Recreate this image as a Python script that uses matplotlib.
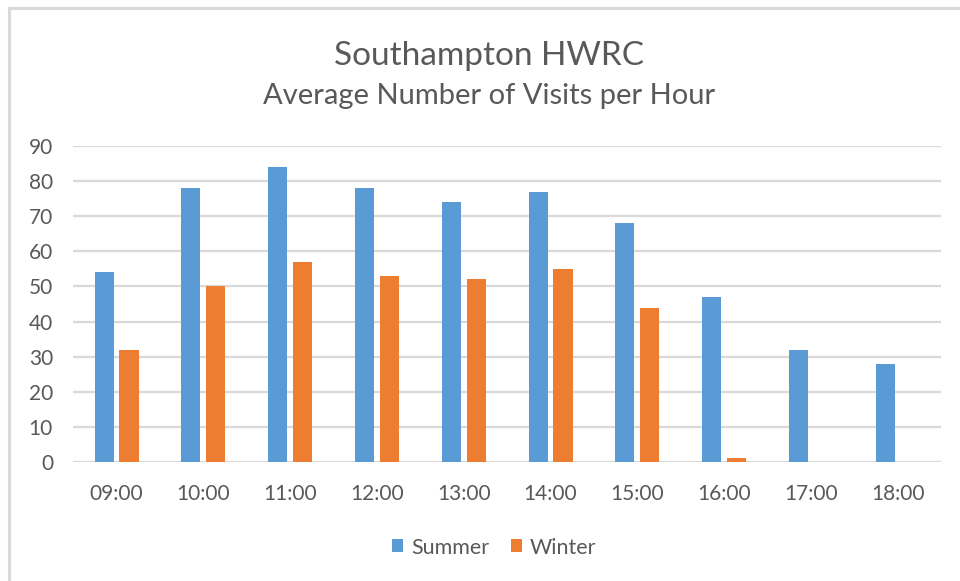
import matplotlib
matplotlib.use("Agg")
import matplotlib.pyplot as plt
from matplotlib.lines import Line2D
import numpy as np

categories = ["09:00", "10:00", "11:00", "12:00", "13:00", "14:00", "15:00", "16:00", "17:00", "18:00"]
summer = [54, 78, 84, 78, 74, 77, 68, 47, 32, 28]
winter = [32, 50, 57, 53, 52, 55, 44, 1, 0, 0]
yticks = [0, 10, 20, 30, 40, 50, 60, 70, 80, 90]

plt.rcParams['font.family'] = ['Lato', 'DejaVu Sans']
W, H = 960, 581
fig = plt.figure(figsize=(W/100, H/100), dpi=100)
fig.patch.set_facecolor('white')

ax = fig.add_axes([73/W, 1-462/H, (941-73)/W, (462-146)/H])
x = np.arange(len(categories))
bw = 0.22
ax.bar(x - 0.142, summer, bw, color='#5B9BD5', label='Summer', zorder=3)
ax.bar(x + 0.145, winter, bw, color='#ED7D31', label='Winter', zorder=3)

ax.set_xlim(-0.5, len(categories) - 0.5)
ax.set_ylim(0, 90)
ax.set_yticks(yticks)
ax.set_xticks(x)
ax.set_xticklabels(categories)
for s in ax.spines.values():
    s.set_visible(False)
ax.grid(axis='y', color='#D9D9D9', linewidth=1.6, zorder=0)
ax.tick_params(axis='both', length=0, labelsize=15, colors='#595959')
ax.tick_params(axis='y', pad=14.4)
ax.tick_params(axis='x', pad=16)

fig.text(489/W, 1-65/H, "Southampton HWRC", ha='center', va='baseline', fontsize=24, color='#595959')
fig.text(489/W, 1-104/H, "Average Number of Visits per Hour", ha='center', va='baseline', fontsize=21, color='#595959')

leg = fig.legend(loc='center', bbox_to_anchor=(494/W, 1-547.5/H), ncol=2, frameon=False,
                 fontsize=15.5, handlelength=0.55, handleheight=0.55, handletextpad=0.35,
                 columnspacing=1.0, labelcolor='#595959')

# chart border (top and left visible)
fig.add_artist(Line2D([9/W, 1], [1-8/H, 1-8/H], color='#D9D9D9', linewidth=2.2, transform=fig.transFigure))
fig.add_artist(Line2D([9/W, 9/W], [0, 1-8/H], color='#D9D9D9', linewidth=2.2, transform=fig.transFigure))

fig.savefig("out.png", dpi=100, facecolor='white')
